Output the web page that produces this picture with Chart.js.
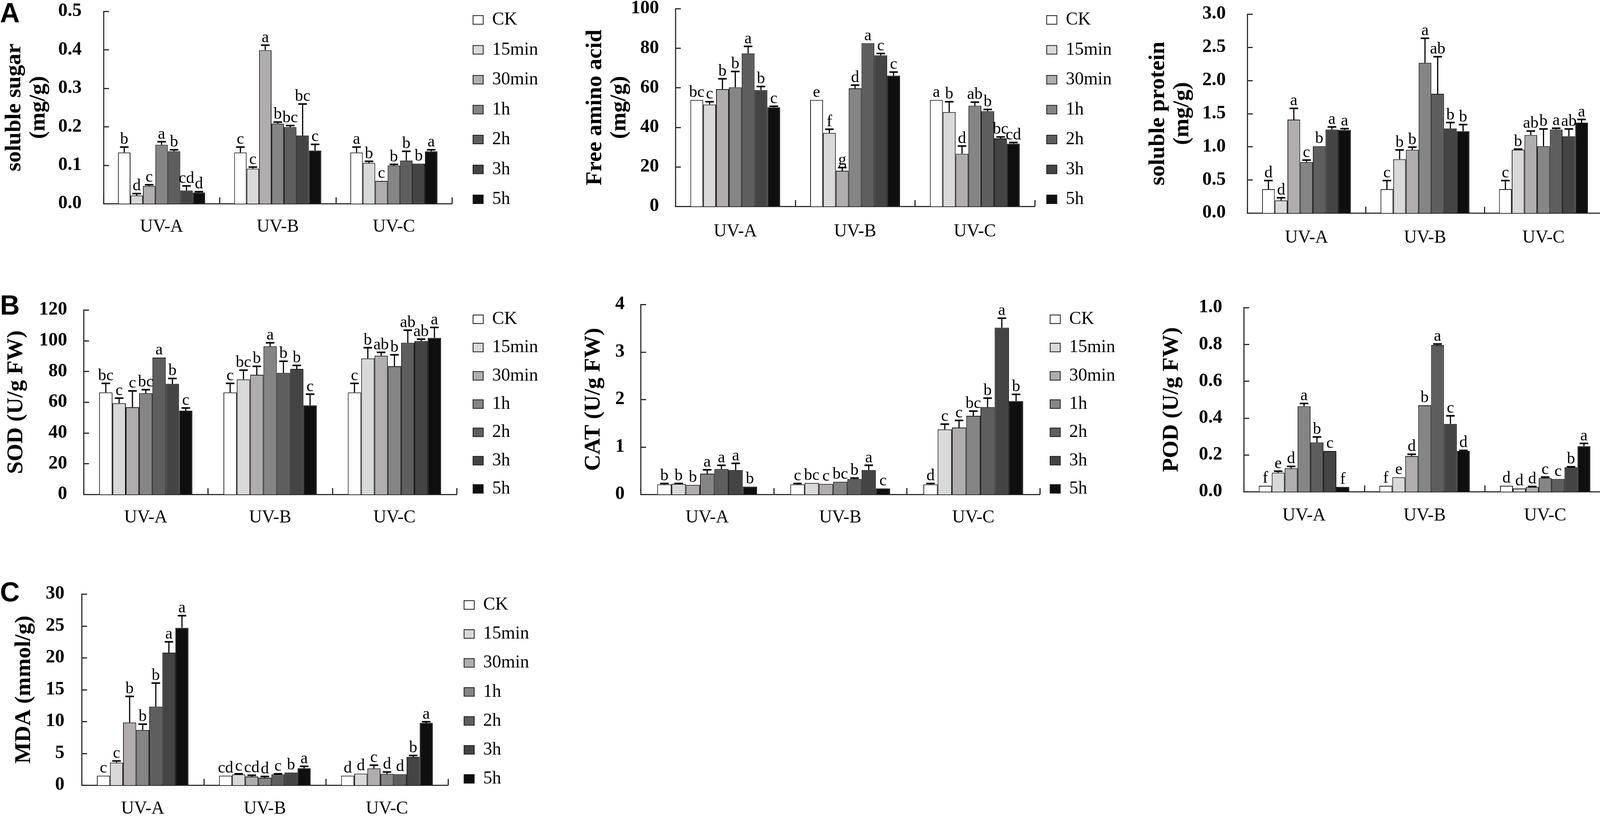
<!DOCTYPE html>
<html><head><meta charset="utf-8">
<script src="https://cdn.jsdelivr.net/npm/chart.js@4.4.0/dist/chart.umd.min.js"></script>
<style>
html,body{margin:0;padding:0;background:#fff;width:4317px;height:2088px;overflow:hidden;position:relative;}
canvas{position:absolute;}
.lab{position:absolute;font-family:'Liberation Sans',Arial,sans-serif;font-weight:bold;font-size:70px;line-height:70px;color:#000;}
</style></head><body>
<div class="lab" style="left:0;top:-2px">A</div>
<div class="lab" style="left:0;top:746px">B</div>
<div class="lab" style="left:0;top:1480px">C</div>
<script>
// ---------- data ----------
const categories = ['UV-A', 'UV-B', 'UV-C'];
const seriesNames = ['CK', '15min', '30min', '1h', '2h', '3h', '5h'];

// rows = categories (UV-A, UV-B, UV-C); columns = series (CK ... 5h)
const sugarMean = [[0.133, 0.021, 0.046, 0.153, 0.136, 0.034, 0.029], [0.133, 0.091, 0.399, 0.208, 0.199, 0.177, 0.138], [0.133, 0.106, 0.059, 0.099, 0.112, 0.104, 0.136]];
const sugarErr  = [[0.014, 0.005, 0.003, 0.008, 0.004, 0.012, 0.002], [0.014, 0.004, 0.013, 0.004, 0.004, 0.082, 0.016], [0.014, 0.004, 0, 0.003, 0.024, 0, 0.004]];
const sugarSig  = [['b', 'd', 'c', 'a', 'b', 'cd', 'd'], ['c', 'c', 'a', 'b', 'bc', 'bc', 'c'], ['a', 'b', 'c', 'b', 'b', 'b', 'a']];

const aminoMean = [[53.8, 51.5, 59.3, 60.2, 77.3, 58.8, 50.1], [53.8, 37.1, 18.0, 59.7, 82.5, 76.4, 66.1], [53.8, 47.7, 26.6, 50.9, 48.1, 34.4, 31.7]];
const aminoErr  = [[0, 1.4, 5.2, 8.0, 3.6, 1.8, 0.5], [0, 1.9, 1.6, 1.6, 0, 0.9, 1.8], [0, 5.2, 3.9, 1.8, 0.9, 0.7, 0.6]];
const aminoSig  = [['bc', 'c', 'b', 'b', 'a', 'b', 'c'], ['e', 'f', 'g', 'd', 'a', 'c', 'c'], ['a', 'b', 'd', 'ab', 'b', 'bc', 'cd']];

const proteinMean = [[0.359, 0.19, 1.408, 0.768, 1.007, 1.258, 1.252], [0.359, 0.811, 0.953, 2.265, 1.797, 1.274, 1.233], [0.359, 0.953, 1.176, 1.007, 1.258, 1.157, 1.361]];
const proteinErr  = [[0.13, 0.04, 0.17, 0.03, 0, 0.04, 0.02], [0.13, 0.14, 0.04, 0.37, 0.56, 0.09, 0.1], [0.13, 0.01, 0.06, 0.26, 0.02, 0.11, 0.05]];
const proteinSig  = [['d', 'd', 'a', 'c', 'b', 'a', 'a'], ['c', 'b', 'b', 'a', 'ab', 'b', 'b'], ['c', 'b', 'ab', 'b', 'a', 'ab', 'a']];

const sodMean = [[66.3, 59.3, 56.7, 65.8, 89.0, 71.9, 54.4], [66.3, 74.8, 77.8, 96.3, 79.0, 81.6, 57.9], [66.3, 88.4, 90.2, 83.4, 98.6, 99.8, 101.8]];
const sodErr  = [[5.9, 3.3, 10.6, 2.3, 0, 3.5, 1.8], [5.9, 6.0, 5.5, 2.3, 7.6, 2.3, 7.3], [5.9, 7.0, 2.2, 7.4, 8.2, 1.2, 6.8]];
const sodSig  = [['bc', 'c', 'c', 'bc', 'a', 'b', 'c'], ['c', 'bc', 'b', 'a', 'b', 'b', 'c'], ['c', 'b', 'ab', 'b', 'ab', 'ab', 'a']];

const catMean = [[0.209, 0.22, 0.2, 0.437, 0.532, 0.513, 0.163], [0.209, 0.24, 0.22, 0.266, 0.323, 0.513, 0.125], [0.209, 1.369, 1.407, 1.654, 1.837, 3.51, 1.966]];
const catErr  = [[0.02, 0.01, 0, 0.08, 0.08, 0.14, 0], [0.02, 0, 0, 0, 0.02, 0.1, 0], [0.02, 0.11, 0.15, 0.1, 0.19, 0.2, 0.14]];
const catSig  = [['b', 'b', 'b', 'a', 'a', 'a', 'b'], ['c', 'bc', 'c', 'bc', 'b', 'a', 'c'], ['d', 'c', 'c', 'bc', 'b', 'a', 'b']];

const podMean = [[0.032, 0.103, 0.127, 0.464, 0.267, 0.221, 0.026], [0.032, 0.078, 0.193, 0.469, 0.796, 0.368, 0.221], [0.032, 0.017, 0.025, 0.074, 0.069, 0.132, 0.247]];
const podErr  = [[0, 0.008, 0.01, 0.015, 0.03, 0, 0], [0, 0, 0.01, 0, 0.006, 0.044, 0.003], [0, 0, 0.003, 0.005, 0, 0.003, 0.015]];
const podSig  = [['f', 'e', 'd', 'a', 'b', 'c', 'f'], ['f', 'e', 'd', 'b', 'a', 'c', 'd'], ['d', 'd', 'd', 'c', 'c', 'b', 'a']];

const mdaMean = [[1.49, 3.52, 9.83, 8.67, 12.32, 20.8, 24.7], [1.49, 1.68, 1.35, 1.16, 1.68, 1.98, 2.65], [1.49, 1.81, 2.63, 1.76, 1.71, 4.41, 9.75]];
const mdaErr  = [[0, 0.27, 4.1, 0.9, 3.7, 1.7, 1.9], [0, 0.1, 0.2, 0.2, 0.1, 0, 0.3], [0, 0, 0.5, 0.3, 0, 0.24, 0.2]];
const mdaSig  = [['c', 'c', 'b', 'b', 'b', 'a', 'a'], ['cd', 'c', 'cd', 'd', 'c', 'b', 'a'], ['d', 'd', 'c', 'd', 'd', 'b', 'a']];

// ---------- styles ----------
const seriesColors = ['#ffffff', '#d9d9d9', '#b1adad', '#858585', '#5e5e5e', '#444444', '#0f0f0f'];
const SERIF = "'Liberation Serif', 'Times New Roman', serif";
const LEG_FONT = 46, BOXW = 26, BOXH = 22;
const TITLE_FONT = 58, TITLE_LH = 1.07;
const CAT_FONT = 46, TICK_FONT = 48, SIG_FONT = 42;

Chart.defaults.font.family = SERIF;
Chart.defaults.color = '#000';

// ---------- layout (page pixels) ----------
const panels = [
  {id: 'sugar', title: ['soluble sugar', '(mg/g)'], mean: sugarMean, err: sugarErr, sig: sugarSig, max: 0.5, step: 0.1, dec: 1,
   L: 265, T: 29, R: 1157, B: 521, tx: 37, gap: 56, catY: 581, sqX: 1217, lg1: 51, lg2: 510},
  {id: 'amino', title: ['Free amino acid', '(mg/g)'], mean: aminoMean, err: aminoErr, sig: aminoSig, max: 100, step: 20, dec: 0,
   L: 1729, T: 22, R: 2649, B: 528, tx: 1524, gap: 42, catY: 593, sqX: 2667, lg1: 51, lg2: 510},
  {id: 'protein', title: ['soluble protein', '(mg/g)'], mean: proteinMean, err: proteinErr, sig: proteinSig, max: 3, step: 0.5, dec: 1,
   L: 3193, T: 36, R: 4103, B: 545, tx: 2965, gap: 55, catY: 609, sqX: 4151, lg1: 51, lg2: 510},
  {id: 'sod', title: 'SOD (U/g FW)', mean: sodMean, err: sodErr, sig: sodSig, max: 120, step: 20, dec: 0,
   L: 214, T: 793, R: 1169, B: 1265, tx: 42, gap: 42, catY: 1325, sqX: 1217, lg1: 817, lg2: 1251},
  {id: 'cat', title: 'CAT (U/g FW)', mean: catMean, err: catErr, sig: catSig, max: 4, step: 1, dec: 0,
   L: 1640, T: 779, R: 2662, B: 1265, tx: 1520, gap: 41, catY: 1325, sqX: 2686, lg1: 817, lg2: 1251},
  {id: 'pod', title: 'POD (U/g FW)', mean: podMean, err: podErr, sig: podSig, max: 1, step: 0.2, dec: 1,
   L: 3184, T: 787, R: 4110, B: 1258, tx: 3000, gap: 55, catY: 1320, sqX: 4151, lg1: 817, lg2: 1251},
  {id: 'mda', title: 'MDA (mmol/g)', mean: mdaMean, err: mdaErr, sig: mdaSig, max: 30, step: 5, dec: 0,
   L: 209, T: 1520, R: 1147, B: 2009, tx: 62, gap: 44, catY: 2070, sqX: 1194, lg1: 1548, lg2: 1993}
];

const mctx = document.createElement('canvas').getContext('2d');
mctx.font = LEG_FONT + 'px ' + SERIF;
const maxText = Math.max(...seriesNames.map(s => mctx.measureText(s).width));
const itemWidth = BOXW + LEG_FONT / 2 + maxText;

function makeDecor(p) {
  return {
    id: 'decor_' + p.id,
    afterDatasetsDraw(chart) {
      const {ctx, chartArea} = chart;
      const ys = chart.scales.y, xs = chart.scales.x;
      ctx.save();
      ctx.strokeStyle = '#2a2a2a';
      ctx.lineWidth = 3;
      ys.ticks.forEach(t => {
        const py = Math.round(ys.getPixelForValue(t.value)) + 0.5;
        ctx.beginPath(); ctx.moveTo(chartArea.left, py); ctx.lineTo(chartArea.left + 14, py); ctx.stroke();
      });
      for (let i = 0; i <= categories.length; i++) {
        const px = Math.round(xs.getPixelForValue(i - 0.5)) + 0.5;
        ctx.beginPath(); ctx.moveTo(px, chartArea.bottom); ctx.lineTo(px, chartArea.bottom - 16); ctx.stroke();
      }
      ctx.strokeStyle = '#000';
      ctx.fillStyle = '#000';
      ctx.font = SIG_FONT + 'px ' + SERIF;
      ctx.textAlign = 'center';
      ctx.textBaseline = 'alphabetic';
      chart.data.datasets.forEach((ds, si) => {
        const meta = chart.getDatasetMeta(si);
        meta.data.forEach((bar, ci) => {
          const v = ds.data[ci];
          const e = p.err[ci][si];
          const yTop = ys.getPixelForValue(v + e);
          if (e > 0) {
            ctx.lineWidth = 3;
            ctx.beginPath(); ctx.moveTo(bar.x, bar.y); ctx.lineTo(bar.x, yTop); ctx.stroke();
            ctx.lineWidth = 4;
            ctx.beginPath(); ctx.moveTo(bar.x - 11, yTop); ctx.lineTo(bar.x + 11, yTop); ctx.stroke();
          }
          ctx.fillText(p.sig[ci][si], bar.x, yTop - 8);
        });
      });
      ctx.restore();
    }
  };
}

panels.forEach(p => {
  const P = (p.lg2 - p.lg1) / 6 - LEG_FONT;           // legend item spacing
  const Lc = (p.lg1 + p.lg2) / 2;                       // legend vertical centre
  const legBottom = p.catY + 40;                        // x scale box must hold the category labels
  const canvasTop = Math.round(2 * Lc - legBottom);     // legend box centred on Lc
  const padB = 6;
  const H = legBottom - canvasTop + padB;
  const xH = legBottom - p.B;
  const canvasLeft = Math.round(p.tx - (2 + TITLE_FONT * TITLE_LH / 2));
  const boxLeft = Math.max(p.sqX - 6, p.R + P);
  const gapW = boxLeft - P - p.R;
  const need = boxLeft - canvasLeft + itemWidth + 10;
  const W = Math.ceil(need) + 4;
  const padR = W - need;

  const cv = document.createElement('canvas');
  cv.width = W; cv.height = H;
  cv.style.left = canvasLeft + 'px'; cv.style.top = canvasTop + 'px';
  cv.style.width = W + 'px'; cv.style.height = H + 'px';
  document.body.appendChild(cv);

  const datasets = seriesNames.map((name, si) => ({
    label: name,
    data: categories.map((c, ci) => p.mean[ci][si]),
    backgroundColor: seriesColors[si],
    borderColor: '#1c1c1c',
    borderWidth: 2,
    categoryPercentage: 0.75,
    barPercentage: 1.0
  }));

  const scales = {
    x: {
      type: 'category',
      z: 1,
      grid: {display: false, drawTicks: false, tickLength: 0},
      border: {display: true, color: '#333', width: 3},
      ticks: {font: {size: CAT_FONT}, color: '#000', padding: p.catY - p.B - CAT_FONT * 1.2 / 2, maxRotation: 0, autoSkip: false},
      afterFit(s) { s.height = xH; s.paddingLeft = 0; s.paddingRight = 0; }
    },
    y: {
      type: 'linear',
      min: 0, max: p.max,
      z: 1,
      grid: {display: false, drawTicks: false, tickLength: 0},
      border: {display: true, color: '#333', width: 3},
      ticks: {stepSize: p.step, font: {size: TICK_FONT, weight: 'bold'}, color: '#000', padding: p.gap,
              callback: v => Number(v).toFixed(p.dec)},
      title: {display: true, text: p.title, color: '#000', font: {size: TITLE_FONT, weight: 'bold', lineHeight: TITLE_LH}, padding: {top: 2, bottom: 0}},
      afterFit(s) { s.width = p.L - canvasLeft; s.paddingTop = p.T - canvasTop; s.paddingBottom = 0; }
    }
  };
  if (gapW > 0.5) {
    scales.gap = {
      type: 'linear', position: 'right', display: true,
      grid: {display: false, drawTicks: false}, border: {display: false},
      ticks: {display: false}, title: {display: false},
      afterFit(s) { s.width = gapW; s.paddingTop = 0; s.paddingBottom = 0; }
    };
  }

  new Chart(cv, {
    type: 'bar',
    data: {labels: categories, datasets},
    options: {
      responsive: false, maintainAspectRatio: false, animation: false, devicePixelRatio: 1,
      layout: {padding: {left: 0, top: 0, right: padR, bottom: padB}},
      scales,
      plugins: {
        tooltip: {enabled: false},
        legend: {
          display: true, position: 'right', align: 'center', fullSize: true,
          labels: {boxWidth: BOXW, boxHeight: BOXH, padding: P, color: '#000', font: {size: LEG_FONT}}
        }
      }
    },
    plugins: [makeDecor(p)]
  });
});
</script>
</body></html>
